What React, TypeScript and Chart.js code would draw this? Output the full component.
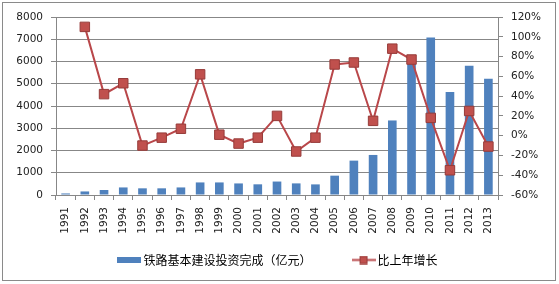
import React, { useEffect, useRef } from "react";
import { Chart, registerables } from "chart.js";

Chart.register(...registerables);

const years = ["1991","1992","1993","1994","1995","1996","1997","1998","1999","2000","2001","2002","2003","2004","2005","2006","2007","2008","2009","2010","2011","2012","2013"];
const investment = [70, 160, 225, 340, 300, 300, 340, 565, 565, 520, 480, 605, 522, 477, 869, 1545, 1800, 3350, 6000, 7080, 4630, 5810, 5225];
const growth = [null, 110, 42, 53, -10, -2, 7, 62, 1, -8, -2, 20, -16, -2, 72, 74, 15, 88, 77, 18, -35, 25, -11];
const barLabel = "铁路基本建设投资完成（亿元）";
const lineLabel = "比上年增长";

const BAR_COLOR = "#4F81BD";
const LINE_COLOR = "#B9474A";
const MARK_FILL = "#C0504D";
const MARK_BORDER = "#963B39";
const GRID = "#878787";

function makeBarIcon() {
  const c = document.createElement("canvas");
  c.width = 24; c.height = 6;
  const g = c.getContext("2d")!;
  g.fillStyle = BAR_COLOR;
  g.fillRect(0, 0, 24, 6);
  return c;
}
function makeLineIcon() {
  const c = document.createElement("canvas");
  c.width = 24; c.height = 9;
  const g = c.getContext("2d")!;
  g.strokeStyle = LINE_COLOR;
  g.lineWidth = 2;
  g.beginPath(); g.moveTo(0, 4.5); g.lineTo(24, 4.5); g.stroke();
  g.fillStyle = MARK_FILL;
  g.fillRect(8, 0.5, 8, 8);
  g.strokeStyle = MARK_BORDER; g.lineWidth = 1;
  g.strokeRect(8.5, 1, 7, 7);
  return c;
}

const frame = {
  id: "frame",
  beforeDraw(chart: any) {
    const { ctx, width, height } = chart;
    ctx.save();
    ctx.fillStyle = "#fff";
    ctx.fillRect(0, 0, width, height);
    ctx.strokeStyle = "#8a8a8a";
    ctx.lineWidth = 1;
    ctx.strokeRect(2.5, 2.5, width - 6, height - 6);
    ctx.restore();
  },
};

export default function App() {
  const ref = useRef<HTMLCanvasElement>(null);
  useEffect(() => {
    document.body.style.margin = "0";
    const barIcon = makeBarIcon();
    const lineIcon = makeLineIcon();
    const tickFont = { family: "DejaVu Sans", size: 10.5 };
    const chart = new Chart(ref.current!, {
      type: "bar",
      data: {
        labels: years,
        datasets: [
          {
            type: "bar",
            label: barLabel,
            data: investment,
            backgroundColor: BAR_COLOR,
            yAxisID: "y",
            order: 1,
            barPercentage: 0.5,
            categoryPercentage: 0.9,
          },
          {
            type: "line",
            label: lineLabel,
            data: growth as any,
            borderColor: LINE_COLOR,
            borderWidth: 2,
            pointStyle: "rect",
            pointRadius: 6.7,
            pointBackgroundColor: MARK_FILL,
            pointBorderColor: MARK_BORDER,
            pointBorderWidth: 1,
            yAxisID: "y1",
            order: 0,
            tension: 0,
          },
        ],
      },
      options: {
        responsive: false,
        animation: false,
        layout: { padding: { top: 17, bottom: 8, left: 0, right: 0 } },
        plugins: {
          tooltip: { enabled: false },
          legend: {
            position: "bottom",
            labels: {
              usePointStyle: true,
              pointStyleWidth: 16,
              padding: 20,
              color: "#000",
              font: { family: "Noto Sans CJK SC", size: 12 },
              generateLabels: () => [
                { text: barLabel + "\u2003\u2003", pointStyle: barIcon as any, fillStyle: BAR_COLOR, strokeStyle: BAR_COLOR, lineWidth: 0, datasetIndex: 0, hidden: false, fontColor: "#000" } as any,
                { text: lineLabel, pointStyle: lineIcon as any, fillStyle: MARK_FILL, strokeStyle: LINE_COLOR, lineWidth: 0, datasetIndex: 1, hidden: false, fontColor: "#000" } as any,
              ],
            },
          },
        },
        scales: {
          x: {
            afterFit: (s: any) => { s.height = 39; },
            grid: { drawOnChartArea: false, tickLength: 5, color: GRID, offset: true },
            border: { display: true, color: GRID },
            ticks: {
              autoSkip: false,
              minRotation: 90,
              maxRotation: 90,
              padding: 7,
              color: "#222",
              font: tickFont,
            },
          },
          y: {
            position: "left",
            min: 0,
            max: 8000,
            afterFit: (s: any) => { s.width = 56; },
            grid: { color: GRID, tickLength: 5 },
            border: { display: true, color: GRID },
            ticks: { stepSize: 1000, padding: 8, color: "#222", font: tickFont, callback: (v: any) => String(v) },
          },
          y1: {
            position: "right",
            min: -60,
            max: 120,
            afterFit: (s: any) => { s.width = 61; },
            grid: { drawOnChartArea: false, color: GRID, tickLength: 5 },
            border: { display: true, color: GRID },
            ticks: { stepSize: 20, padding: 8, color: "#222", font: tickFont, callback: (v: any) => v + "%" },
          },
        },
      },
      plugins: [frame],
    });
    return () => chart.destroy();
  }, []);
  return (
    <div style={{ width: 559, height: 284 }}>
      <canvas ref={ref} width={559} height={284} style={{ display: "block", width: 559, height: 284 }} />
    </div>
  );
}
